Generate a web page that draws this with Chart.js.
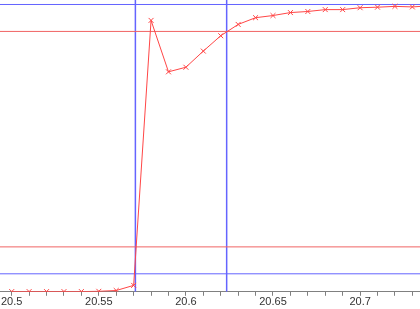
<!DOCTYPE html>
<html>
<head>
<meta charset="utf-8">
<script src="https://cdn.jsdelivr.net/npm/chart.js@4/dist/chart.umd.min.js"></script>
<style>
  html, body { margin: 0; padding: 0; background: #ffffff; }
  canvas { display: block; }
</style>
</head>
<body>
<canvas id="c" width="420" height="309"></canvas>
<script>
// ---- data ----
const times = [20.50, 20.51, 20.52, 20.53, 20.54, 20.55, 20.56, 20.57, 20.58, 20.59,
               20.60, 20.61, 20.62, 20.63, 20.64, 20.65, 20.66, 20.67, 20.68, 20.69,
               20.70, 20.71, 20.72, 20.73, 20.74];
const response = [-0.066, -0.066, -0.066, -0.066, -0.066, -0.065, -0.062, -0.043, 0.941, 0.750,
                  0.767, 0.827, 0.884, 0.926, 0.951, 0.959, 0.970, 0.974, 0.981, 0.981,
                  0.988, 0.990, 0.993, 0.991, 0.995];
const finalLevels = [0, 1];          // blue horizontal lines
const thresholdLevels = [0.1, 0.9];  // red horizontal lines
const crossingTimes = [20.5710, 20.6234]; // blue vertical lines
const majorLabels = ['20.5', '20.55', '20.6', '20.65', '20.7'];

// ---- view range ----
const xMin = 20.49328, xMax = 20.73439;
const yMin = -0.0668, yMax = 1.0167;

const blue = 'rgb(100,100,255)';
const redLine = 'rgb(240,100,100)';
const redCurve = 'rgb(255,70,70)';

function hLine(level, color) {
  return { data: [{x: xMin, y: level}, {x: xMax, y: level}], borderColor: color,
           borderWidth: 1, pointRadius: 0, fill: false, tension: 0 };
}
function vLine(t, color) {
  return { data: [{x: t, y: yMin}, {x: t, y: yMax}], borderColor: color,
           borderWidth: 1.5, pointRadius: 0, fill: false, tension: 0 };
}

const datasets = [
  { data: times.map((t, i) => ({x: t, y: response[i]})), borderColor: redCurve,
    borderWidth: 1, pointStyle: 'crossRot', pointRadius: 3.5, pointBorderColor: redCurve,
    pointBorderWidth: 1, pointBackgroundColor: redCurve, fill: false, tension: 0 },
  ...thresholdLevels.map(l => hLine(l, redLine)),
  ...finalLevels.map(l => hLine(l, blue)),
  ...crossingTimes.map(t => vLine(t, blue))
];

new Chart(document.getElementById('c'), {
  type: 'line',
  data: { datasets },
  options: {
    responsive: false,
    animation: false,
    devicePixelRatio: 1,
    layout: { padding: 0, autoPadding: false },
    plugins: { legend: { display: false }, tooltip: { enabled: false } },
    scales: {
      x: {
        type: 'linear', min: xMin, max: xMax,
        border: { display: true, color: '#808080', width: 1 },
        grid: { display: true, drawOnChartArea: false, drawTicks: true, tickLength: 4, color: '#808080' },
        ticks: {
          stepSize: 0.01, includeBounds: false, autoSkip: false, maxRotation: 0, minRotation: 0,
          padding: 0, color: '#333333',
          font: { family: 'Liberation Sans, Arial, sans-serif', size: 11 },
          callback: (v) => {
            const s = String(parseFloat(Number(v).toFixed(2)));
            return majorLabels.includes(s) ? s : '';
          }
        }
      },
      y: { type: 'linear', min: yMin, max: yMax, display: false }
    }
  }
});
</script>
</body>
</html>
